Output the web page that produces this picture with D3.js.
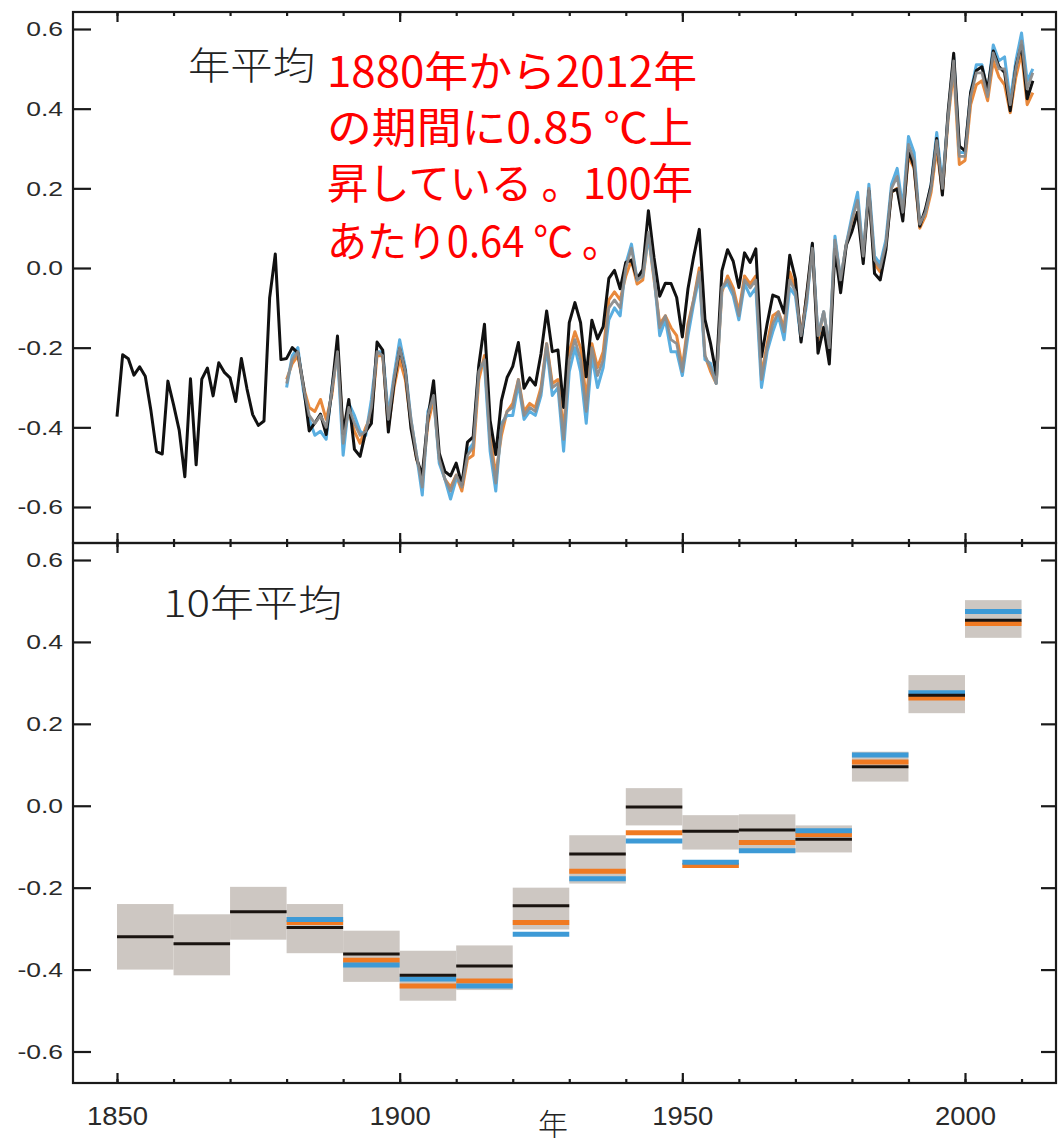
<!DOCTYPE html>
<html><head><meta charset="utf-8">
<script src="https://cdn.jsdelivr.net/npm/d3@7"></script>
<style>body{margin:0;background:#fff}</style>
</head><body>
<svg id="c" width="1061" height="1147"></svg>
<script>
// ---------- DATA ----------
const hadStart = 1850;
const hadcrut = [
-0.373,-0.218,-0.228,-0.269,-0.248,-0.272,-0.358,-0.461,-0.467,-0.284,
-0.343,-0.407,-0.524,-0.278,-0.494,-0.279,-0.251,-0.321,-0.238,-0.262,
-0.276,-0.335,-0.227,-0.304,-0.368,-0.395,-0.384,-0.075,0.035,-0.230,
-0.227,-0.200,-0.213,-0.296,-0.409,-0.389,-0.367,-0.418,-0.307,-0.171,
-0.416,-0.330,-0.455,-0.473,-0.410,-0.390,-0.186,-0.206,-0.412,-0.289,
-0.203,-0.259,-0.402,-0.479,-0.520,-0.377,-0.283,-0.465,-0.511,-0.522,
-0.490,-0.544,-0.437,-0.424,-0.244,-0.141,-0.383,-0.468,-0.333,-0.275,
-0.247,-0.187,-0.302,-0.276,-0.294,-0.215,-0.108,-0.210,-0.206,-0.350,
-0.137,-0.087,-0.137,-0.273,-0.131,-0.178,-0.147,-0.026,-0.006,-0.052,
0.014,0.020,-0.027,-0.004,0.144,0.025,-0.071,-0.038,-0.039,-0.074,
-0.173,-0.052,0.028,0.097,-0.129,-0.190,-0.267,-0.007,0.046,0.017,
-0.049,0.038,0.014,0.048,-0.223,-0.140,-0.068,-0.074,-0.113,0.032,
-0.027,-0.186,-0.065,0.062,-0.214,-0.149,-0.241,0.047,-0.062,0.057,
0.092,0.140,0.011,0.194,-0.014,-0.030,0.045,0.192,0.198,0.118,
0.296,0.254,0.105,0.148,0.208,0.325,0.183,0.390,0.539,0.306,
0.294,0.441,0.496,0.505,0.447,0.545,0.506,0.491,0.395,0.506,
0.560,0.425,0.470];

const otherStart = 1880;
const mlost = [
-0.28,-0.24,-0.22,-0.30,-0.35,-0.36,-0.33,-0.38,-0.32,-0.20,
-0.42,-0.36,-0.41,-0.44,-0.40,-0.37,-0.22,-0.22,-0.40,-0.30,
-0.23,-0.28,-0.39,-0.48,-0.53,-0.39,-0.33,-0.48,-0.53,-0.55,
-0.52,-0.56,-0.48,-0.47,-0.28,-0.22,-0.42,-0.52,-0.42,-0.36,
-0.34,-0.28,-0.36,-0.34,-0.35,-0.30,-0.19,-0.29,-0.28,-0.41,
-0.21,-0.16,-0.20,-0.33,-0.19,-0.25,-0.21,-0.08,-0.06,-0.08,
-0.02,0.02,-0.04,-0.03,0.08,-0.03,-0.14,-0.12,-0.15,-0.17,
-0.25,-0.14,-0.08,0.00,-0.22,-0.26,-0.29,-0.06,-0.02,-0.05,
-0.11,-0.02,-0.04,-0.02,-0.27,-0.19,-0.12,-0.11,-0.15,-0.01,
-0.05,-0.17,-0.07,0.05,-0.18,-0.11,-0.20,0.07,-0.03,0.06,
0.11,0.14,0.04,0.19,0.01,-0.01,0.06,0.19,0.20,0.13,
0.28,0.25,0.10,0.13,0.19,0.30,0.19,0.37,0.50,0.26,
0.27,0.41,0.46,0.47,0.42,0.52,0.48,0.46,0.39,0.48,
0.54,0.41,0.44];

const giss = [
-0.30,-0.22,-0.20,-0.31,-0.38,-0.42,-0.41,-0.43,-0.30,-0.21,
-0.47,-0.34,-0.37,-0.41,-0.42,-0.33,-0.21,-0.21,-0.37,-0.27,
-0.18,-0.25,-0.38,-0.47,-0.57,-0.36,-0.32,-0.49,-0.53,-0.58,
-0.53,-0.54,-0.46,-0.44,-0.25,-0.24,-0.46,-0.56,-0.39,-0.37,
-0.37,-0.29,-0.38,-0.36,-0.37,-0.32,-0.20,-0.32,-0.30,-0.46,
-0.26,-0.20,-0.26,-0.39,-0.22,-0.30,-0.25,-0.13,-0.10,-0.12,
0.01,0.06,-0.03,-0.02,0.08,-0.02,-0.17,-0.13,-0.21,-0.21,
-0.27,-0.17,-0.09,-0.02,-0.23,-0.24,-0.29,-0.05,-0.04,-0.07,
-0.13,-0.04,-0.07,-0.05,-0.30,-0.21,-0.16,-0.12,-0.18,-0.05,
-0.07,-0.18,-0.09,0.06,-0.17,-0.11,-0.20,0.08,-0.03,0.06,
0.13,0.19,0.03,0.21,0.03,0.01,0.07,0.21,0.25,0.15,
0.33,0.29,0.11,0.14,0.21,0.34,0.21,0.38,0.53,0.29,
0.29,0.44,0.51,0.51,0.44,0.56,0.52,0.53,0.42,0.52,
0.59,0.47,0.50];

const greySeries = [
-0.29,-0.23,-0.21,-0.30,-0.37,-0.39,-0.37,-0.40,-0.31,-0.21,
-0.44,-0.35,-0.39,-0.42,-0.41,-0.35,-0.21,-0.22,-0.38,-0.28,
-0.20,-0.26,-0.38,-0.47,-0.55,-0.37,-0.32,-0.48,-0.53,-0.56,
-0.52,-0.55,-0.47,-0.45,-0.26,-0.23,-0.44,-0.54,-0.40,-0.36,
-0.35,-0.28,-0.37,-0.35,-0.36,-0.31,-0.19,-0.30,-0.29,-0.43,
-0.23,-0.18,-0.23,-0.36,-0.20,-0.27,-0.23,-0.10,-0.08,-0.10,
0.00,0.05,-0.03,-0.02,0.09,-0.02,-0.15,-0.12,-0.18,-0.19,
-0.26,-0.15,-0.08,-0.01,-0.22,-0.25,-0.29,-0.05,-0.03,-0.06,
-0.12,-0.03,-0.05,-0.03,-0.28,-0.20,-0.14,-0.11,-0.16,-0.03,
-0.06,-0.17,-0.08,0.05,-0.17,-0.11,-0.20,0.07,-0.03,0.06,
0.12,0.17,0.03,0.20,0.02,0.00,0.06,0.20,0.23,0.14,
0.31,0.27,0.11,0.14,0.20,0.32,0.20,0.38,0.52,0.28,
0.28,0.43,0.49,0.49,0.43,0.54,0.50,0.50,0.41,0.50,
0.57,0.45,0.49];

// decadal means (bottom panel)
const decades  = [1850,1860,1870,1880,1890,1900,1910,1920,1930,1940,1950,1960,1970,1980,1990,2000];
const decHad   = [-0.320,-0.337,-0.259,-0.297,-0.362,-0.414,-0.391,-0.244,-0.118,-0.003,-0.062,-0.059,-0.082,0.095,0.270,0.453];
const decMlost = [null,null,null,-0.285,-0.377,-0.440,-0.428,-0.285,-0.160,-0.066,-0.146,-0.090,-0.070,0.107,0.263,0.445];
const decGiss  = [null,null,null,-0.278,-0.389,-0.423,-0.440,-0.314,-0.178,-0.086,-0.138,-0.110,-0.061,0.124,0.276,0.474];
const decLow   = [-0.400,-0.414,-0.327,-0.360,-0.430,-0.476,-0.450,-0.302,-0.190,-0.048,-0.107,-0.114,-0.114,0.059,0.226,0.410];
const decHigh  = [-0.240,-0.265,-0.198,-0.240,-0.305,-0.354,-0.341,-0.200,-0.072,0.043,-0.023,-0.021,-0.048,0.132,0.319,0.502];

const yTickValues = [-0.6,-0.4,-0.2,0.0,0.2,0.4,0.6];
const majorYears = [1850,1900,1950,2000];
const minorYears = [1850,1860,1870,1880,1890,1900,1910,1920,1930,1940,1950,1960,1970,1980,1990,2000,2010];
const titleTop = "年平均";
const titleBottom = "10年平均";
const xTitle = "年";
const noteLines = ["1880年から2012年","の期間に0.85 ℃上","昇している 。100年","あたり0.64 ℃ 。"];

// ---------- LAYOUT ----------
const L = 73, R = 1056;
const top1 = 12, bot1 = 543, top2 = 543, bot2 = 1083;
const svg = d3.select("#c");
svg.append("rect").attr("width",1061).attr("height",1147).attr("fill","#fff");

const x = d3.scaleLinear().domain([1850,2000]).range([117,965]);
const yT = d3.scaleLinear().domain([-0.6,0.6]).range([507,29]);
const yB = d3.scaleLinear().domain([-0.6,0.6]).range([1051.5,560]);

const fmt = d => d.toFixed(1);
const axisColor = "#1a1a1a";

function frame(yScale, t, b, withXLabels){
  const g = svg.append("g");
  g.append("g").attr("transform",`translate(${L},0)`)
    .call(d3.axisRight(yScale).tickValues(yTickValues).tickSize(18).tickFormat(""))
    .call(s=>s.select(".domain").remove());
  g.append("g").attr("transform",`translate(${R},0)`)
    .call(d3.axisLeft(yScale).tickValues(yTickValues).tickSize(15).tickFormat(""))
    .call(s=>s.select(".domain").remove());
  const lab = g.append("g").attr("transform",`translate(${L},0)`)
    .call(d3.axisLeft(yScale).tickValues(yTickValues).tickSize(0).tickPadding(10).tickFormat(fmt))
    .call(s=>s.select(".domain").remove());
  lab.selectAll("text").attr("font-family","'Liberation Sans',Arial,sans-serif")
    .attr("font-size",21).attr("fill","#2a2a2a")
    .each(function(){ const w=this.getComputedTextLength(); d3.select(this).attr("textLength",w*1.26).attr("lengthAdjust","spacingAndGlyphs"); });
  [[t, d3.axisBottom],[b, d3.axisTop]].forEach(([yy, ax])=>{
    g.append("g").attr("transform",`translate(0,${yy})`)
      .call(ax(x).tickValues(minorYears).tickSize(4).tickFormat(""))
      .call(s=>s.select(".domain").remove());
    g.append("g").attr("transform",`translate(0,${yy})`)
      .call(ax(x).tickValues(majorYears).tickSize(10).tickFormat(""))
      .call(s=>s.select(".domain").remove());
  });
  if(withXLabels){
    const xl = g.append("g").attr("transform",`translate(0,${b})`)
      .call(d3.axisBottom(x).tickValues(majorYears).tickSize(0).tickPadding(24).tickFormat(d3.format("d")))
      .call(s=>s.select(".domain").remove());
    xl.selectAll("text").attr("font-family","'Liberation Sans',Arial,sans-serif")
      .attr("font-size",25).attr("fill","#2a2a2a")
      .each(function(){ const w=this.getComputedTextLength(); d3.select(this).attr("textLength",w*1.1).attr("lengthAdjust","spacingAndGlyphs"); });
  }
  g.selectAll(".tick line").attr("stroke",axisColor).attr("stroke-width",2.2);
  g.append("rect").attr("x",L).attr("y",t).attr("width",R-L).attr("height",b-t)
    .attr("fill","none").attr("stroke",axisColor).attr("stroke-width",2.2);
}

// ---------- TOP PANEL ----------
function series(arr, start){ return arr.map((v,i)=>({year:start+i, v})); }
const lineT = d3.line().x(d=>x(d.year)).y(d=>yT(d.v));
const gLines = svg.append("g").attr("fill","none").attr("stroke-linejoin","round");
gLines.append("path").attr("d",lineT(series(mlost,otherStart))).attr("stroke","#e8893c").attr("stroke-width",3);
gLines.append("path").attr("d",lineT(series(giss,otherStart))).attr("stroke","#5aaee0").attr("stroke-width",3);
gLines.append("path").attr("d",lineT(series(hadcrut,hadStart))).attr("stroke","#111").attr("stroke-width",3);
gLines.append("path").attr("d",lineT(series(greySeries,otherStart))).attr("stroke","#8c8c8c").attr("stroke-width",2.8).attr("opacity",0.95);

frame(yT, top1, bot1, false);

// ---------- BOTTOM PANEL ----------
const gB = svg.append("g");
decades.forEach((d,i)=>{
  gB.append("rect").attr("x",x(d)).attr("width",x(d+10)-x(d))
    .attr("y",yB(decHigh[i])).attr("height",yB(decLow[i])-yB(decHigh[i]))
    .attr("fill","#cdc7c2");
});
function decLine(arr, color, w){
  decades.forEach((d,i)=>{
    if(arr[i]==null) return;
    gB.append("line").attr("x1",x(d)).attr("x2",x(d+10))
      .attr("y1",yB(arr[i])).attr("y2",yB(arr[i]))
      .attr("stroke",color).attr("stroke-width",w);
  });
}
decLine(decMlost,"#f07a22",5);
decLine(decGiss,"#3d9ad6",5);
decLine(decHad,"#1a1410",3);

frame(yB, top2, bot2, true);

// ---------- TEXT ----------
const jp = "'Noto Sans CJK JP','Noto Sans CJK SC',sans-serif";
svg.append("text").attr("x",188).attr("y",79).text(titleTop)
  .attr("font-family",jp).attr("font-weight",300).attr("font-size",38).attr("fill","#222")
  .attr("textLength",127).attr("lengthAdjust","spacingAndGlyphs");
svg.append("text").attr("x",163).attr("y",617).text(titleBottom)
  .attr("font-family",jp).attr("font-weight",300).attr("font-size",37).attr("fill","#222")
  .attr("textLength",179).attr("lengthAdjust","spacingAndGlyphs");
svg.append("text").attr("x",553).attr("y",1135).attr("text-anchor","middle").text(xTitle)
  .attr("font-family",jp).attr("font-weight",300).attr("font-size",30).attr("fill","#222");

const noteW = [370,366,366,295];
const noteY = [87,143,199,257];
noteLines.forEach((s,i)=>{
  svg.append("text").attr("x",327).attr("y",noteY[i]).text(s)
    .attr("font-family",jp).attr("font-size",42).attr("fill","#ff0000")
    .attr("textLength",noteW[i]).attr("lengthAdjust","spacingAndGlyphs");
});
</script>
</body></html>
